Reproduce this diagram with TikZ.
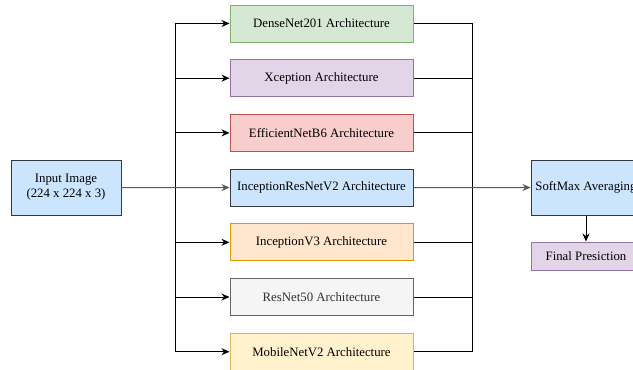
\documentclass[tikz,border=0pt]{standalone}
\usepackage{fontspec}
\setmainfont{Liberation Serif}
\usetikzlibrary{arrows.meta}

\definecolor{grfill}{HTML}{D5E8D4}\definecolor{grline}{HTML}{82B366}
\definecolor{pufill}{HTML}{E1D5E7}\definecolor{puline}{HTML}{9673A6}
\definecolor{refill}{HTML}{F8CECC}\definecolor{reline}{HTML}{B85450}
\definecolor{blfill}{HTML}{CCE5FF}\definecolor{blline}{HTML}{36393D}
\definecolor{orfill}{HTML}{FFE6CC}\definecolor{orline}{HTML}{D79B00}
\definecolor{gyfill}{HTML}{F5F5F5}\definecolor{gyline}{HTML}{666666}
\definecolor{yefill}{HTML}{FFF2CC}\definecolor{yeline}{HTML}{D6B656}

\tikzset{
  box/.style={draw, line width=1pt, font=\fontsize{12.8}{15}\selectfont, align=center, inner sep=2pt},
  arch/.style={box, minimum width=183pt, minimum height=37pt},
  green/.style={fill=grfill, draw=grline},
  purple/.style={fill=pufill, draw=puline},
  red/.style={fill=refill, draw=reline},
  blue/.style={fill=blfill, draw=blline},
  orange/.style={fill=orfill, draw=orline},
  gray/.style={fill=gyfill, draw=gyline, text=black!80},
  yellow/.style={fill=yefill, draw=yeline},
  conn/.style={line width=1pt},
  arr/.style={conn, -{Stealth[length=8pt,width=7pt]}}
}

\begin{document}
\begin{tikzpicture}[x=1pt, y=-1pt]
  \useasboundingbox (0,0) rectangle (633,370);

  \node [box, blue, minimum width=110pt, minimum height=55pt] (input) at (66, 187.5)
    {Input Image\\(224 x 224 x 3)};
  \coordinate (split) at (175, 187.5);
  \coordinate (join) at (472, 187.5);

  \foreach \name/\net/\col [count=\i from 0] in {dense/DenseNet201/green,
      xcep/Xception/purple, effi/EfficientNetB6/red, incres/InceptionResNetV2/blue,
      incv/InceptionV3/orange, resn/ResNet50/gray, mobi/MobileNetV2/yellow} {
    \node [arch, \col] (\name) at (321.5, 23.5 + 54.7*\i) {\net{} Architecture};
    \draw [conn] (\name.east) -| (join);
  }
  \foreach \name in {dense, xcep, effi, incv, resn, mobi} {
    \draw [arr] (split) |- (\name.west);
  }

  \node [box, blue, minimum width=110pt, minimum height=55pt] (soft) at (586, 187.5)
    {SoftMax Averaging};
  \node [box, purple, minimum width=110pt, minimum height=28pt] (final) at (586, 256)
    {Final Presiction};

  \draw [arr, draw=black!65] (input) -- (incres);
  \draw [arr, draw=black!65] (incres) -- (soft);
  \draw [arr] (soft) -- (final);
\end{tikzpicture}
\end{document}
